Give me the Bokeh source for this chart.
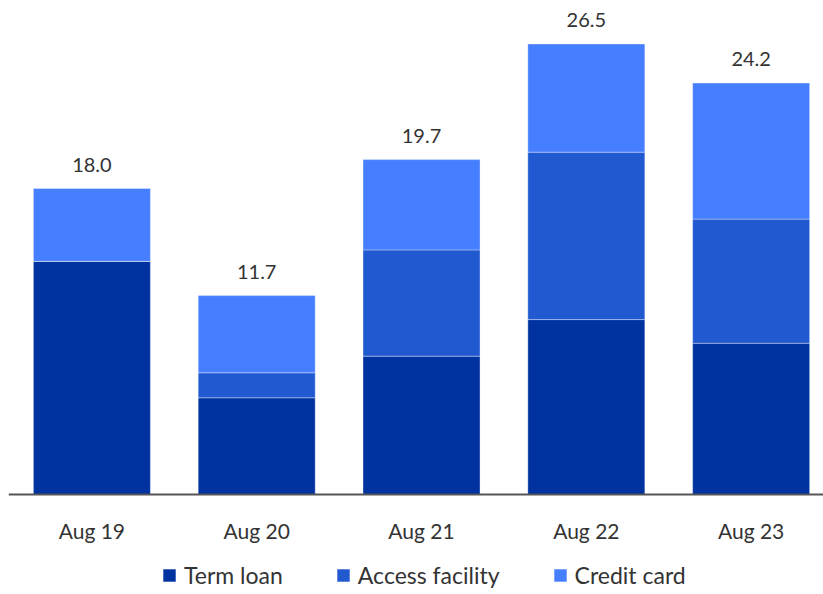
from bokeh.plotting import figure
from bokeh.models import ColumnDataSource, Legend, LegendItem, LabelSet, FixedTicker
from bokeh.core.properties import value
from bokeh.embed import file_html
from bokeh.resources import INLINE

categories = ["Aug 19", "Aug 20", "Aug 21", "Aug 22", "Aug 23"]
term_loan = [13.72, 5.69, 8.14, 10.29, 8.9]
access_facility = [0.0, 1.47, 6.25, 9.85, 7.3]
credit_card = [4.28, 4.54, 5.31, 6.36, 8.0]
totals = [18.0, 11.7, 19.7, 26.5, 24.2]
series = ["Term loan", "Access facility", "Credit card"]
colors = ["#0033A0", "#2159D1", "#457EFF"]

FONT = "Lato"
TXT = "#333333"

xs = list(range(len(categories)))
src = ColumnDataSource(dict(
    x=xs,
    term=term_loan,
    access=access_facility,
    credit=credit_card,
    total=totals,
    total_lbl=[f"{t:.1f}" for t in totals],
))

# frame covers whole canvas; value 0 sits 100 px above the bottom edge
p = figure(frame_width=815, frame_height=594, output_backend="svg", toolbar_location=None,
           x_range=(-0.506, 4.439), y_range=(-100 / 17.0, 29.06),
           min_border_left=8, min_border_right=0, min_border_top=0, min_border_bottom=0)
p.outline_line_color = None
p.background_fill_color = "white"
p.border_fill_color = "white"
p.grid.visible = False
p.yaxis.visible = False

renderers = p.vbar_stack(["term", "access", "credit"], x="x", width=0.71, source=src,
                         color=colors, line_color="white", line_alpha=0.35, line_width=1)

labels = LabelSet(x="x", y="total", text="total_lbl", source=src,
                  text_align="center", text_baseline="alphabetic", y_offset=17,
                  text_font=value(FONT), text_font_size=value("20px"), text_color=value(TXT))
p.add_layout(labels)

xa = p.xaxis[0]
xa.fixed_location = 0
xa.ticker = FixedTicker(ticks=xs)
xa.major_label_overrides = {i: c for i, c in enumerate(categories)}
xa.major_tick_line_color = None
xa.minor_tick_line_color = None
xa.major_tick_out = 0
xa.major_tick_in = 0
xa.minor_tick_out = 0
xa.axis_line_color = "#555555"
xa.axis_line_width = 2
xa.major_label_text_font = FONT
xa.major_label_text_font_size = "21px"
xa.major_label_text_color = TXT
xa.major_label_standoff = 23

legend = Legend(items=[LegendItem(label=s, renderers=[r]) for s, r in zip(series, renderers)],
                orientation="horizontal", location=(153, 5),
                label_text_font=FONT, label_text_font_size="23px", label_text_color=TXT,
                glyph_width=16, glyph_height=16, label_height=16, label_standoff=7, spacing=52,
                border_line_color=None, background_fill_alpha=0,
                margin=0, padding=0)
p.add_layout(legend, "center")

open("out.html", "w").write(file_html(p, INLINE))
